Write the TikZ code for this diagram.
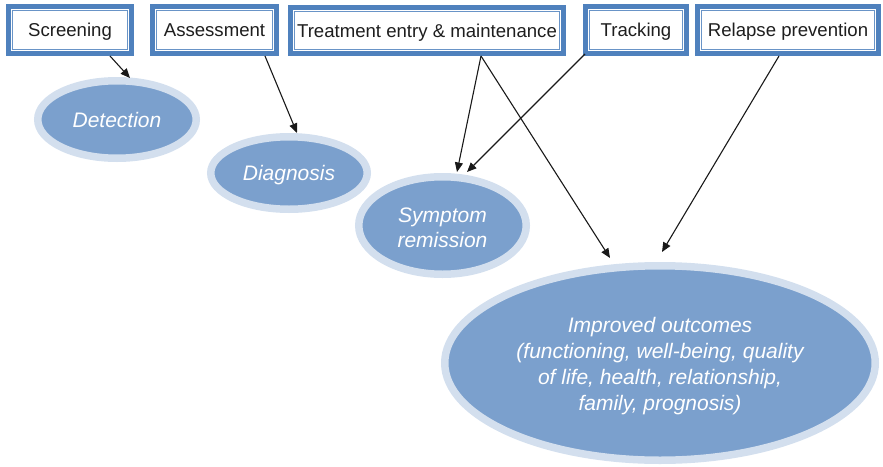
\documentclass[tikz,border=0pt]{standalone}
\usepackage{fontspec}
\setmainfont{Liberation Sans}
\usetikzlibrary{arrows.meta,shapes.geometric,calc}

\definecolor{frameblue}{HTML}{4F81BD}
\definecolor{fillblue}{HTML}{7BA0CD}
\definecolor{ringblue}{HTML}{D3DFEE}
\definecolor{labelgray}{HTML}{1E1E1E}

\tikzset{
  stagebox/.style={
    rectangle, draw=frameblue, line width=5pt, fill=white,
    inner sep=0pt, text=labelgray,
    text height=18pt, text depth=4.6pt,
    font=\fontsize{18.6}{22}\selectfont,
    path picture={
      \draw[frameblue!85, line width=0.9pt]
        ([shift={(4.4pt,4.4pt)}]path picture bounding box.south west) rectangle
        ([shift={(-4.4pt,-4.4pt)}]path picture bounding box.north east);
    }
  },
  goal/.style={
    ellipse, draw=ringblue, line width=7.5pt, fill=fillblue,
    inner sep=0pt, text=white, align=center,
    font=\fontsize{21}{25.5}\selectfont\itshape
  },
  goaltext/.style={
    inner sep=0pt, text=white, align=center,
    font=\fontsize{21}{25.5}\selectfont\itshape
  },
  link/.style={
    draw=black!90, line width=1.1pt,
    -{Triangle[length=9.5pt,width=8pt]}
  }
}

\begin{document}
\begin{tikzpicture}[x=1pt,y=1pt]
  \useasboundingbox (0,0) rectangle (883,-466);

  % activities along the top
  \node[stagebox, minimum width=123pt, minimum height=47pt] (scr) at (70,-30)    {Screening};
  \node[stagebox, minimum width=124pt, minimum height=47pt] (ass) at (214.5,-30) {Assessment};
  \node[stagebox, minimum width=273pt, minimum height=46pt] (trt) at (427,-30.5) {Treatment entry \& maintenance};
  \node[stagebox, minimum width=101pt, minimum height=47pt] (trk) at (636,-30)   {Tracking};
  \node[stagebox, minimum width=181pt, minimum height=47pt] (rel) at (788,-30)   {Relapse prevention};

  % outcomes of each stage
  \node[goal, minimum width=158.5pt, minimum height=77.5pt] (det) at (117,-119.5) {Detection};
  \node[goal, minimum width=156.5pt, minimum height=72.5pt, text depth=0pt] (dia) at (289,-173) {Diagnosis};
  \node[goal, minimum width=167.5pt, minimum height=97.5pt] (sym) at (442.5,-225.5) {};
  \node[goaltext] (symtext) at ([yshift=-2.5pt]sym.center) {Symptom\\remission};
  \node[goal, minimum width=430.5pt, minimum height=194.5pt] (imp) at (660,-363) {};
  \node[goaltext, font=\fontsize{21}{26}\selectfont\itshape] (imptext) at ([yshift=-3.5pt]imp.center)
    {Improved outcomes\\(functioning, well-being, quality\\of life, health, relationship,\\family, prognosis)};

  % connectors
  \draw[link] ([xshift=40pt]scr.south) -- ([xshift=13pt,yshift=-1pt]det.north);
  \draw[link] ([xshift=50.5pt]ass.south) -- ([xshift=8pt]dia.north);
  \draw[link] ([xshift=54pt]trt.south) -- ([xshift=14.5pt,yshift=1pt]sym.north);
  \draw[link] ([xshift=54pt]trt.south) -- ([xshift=-50pt,yshift=4pt]imp.north);
  \draw[link] ([shift={(2pt,2pt)}]trk.south west) -- ([xshift=24.5pt,yshift=1pt]sym.north);
  \draw[link] ([xshift=-9pt]rel.south) -- ([xshift=2pt,yshift=10pt]imp.north);
\end{tikzpicture}
\end{document}
